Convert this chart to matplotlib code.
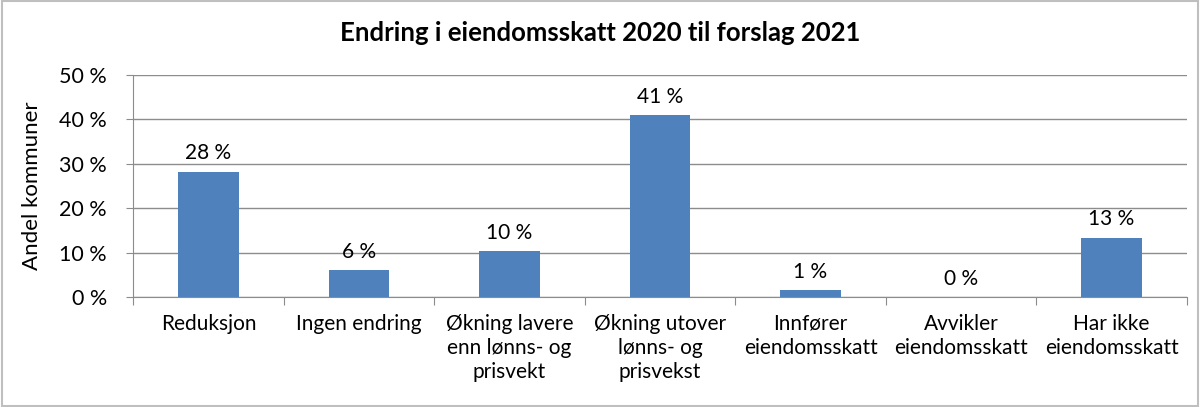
import matplotlib
matplotlib.use("Agg")
import matplotlib.pyplot as plt
from matplotlib.patches import Rectangle

plt.rcParams['font.family'] = ['Lato', 'DejaVu Sans']

kategorier = ["Reduksjon", "Ingen endring", "Økning lavere\nenn lønns- og\nprisvekt",
              "Økning utover\nlønns- og\nprisvekst", "Innfører\neiendomsskatt",
              "Avvikler\neiendomsskatt", "Har ikke\neiendomsskatt"]
andel = [28.2, 6.0, 10.3, 40.9, 1.5, 0.0, 13.4]
etiketter = ["28 %", "6 %", "10 %", "41 %", "1 %", "0 %", "13 %"]

fig = plt.figure(figsize=(12, 4.07), dpi=100)
ax = fig.add_axes([0.111, 0.270, 0.878, 0.546])

x = range(len(kategorier))
ax.bar(x, andel, width=0.4, color='#4F81BD', zorder=3)
for i, (v, t) in enumerate(zip(andel, etiketter)):
    ax.text(i, v + 1.9, t, ha='center', va='bottom', fontsize=15, color='black')

ax.set_xlim(-0.5, len(kategorier) - 0.5)
ax.set_ylim(0, 50)
ax.set_yticks(range(0, 51, 10))
ax.set_yticklabels([f"{v} %" for v in range(0, 51, 10)], fontsize=15.5)
ax.yaxis.grid(True, color='#8c8c8c', linewidth=1, zorder=0)

ax.set_xticks([i + 0.5 for i in range(-1, len(kategorier))], minor=False)
ax.set_xticklabels([])
ax.set_xticks(list(x), minor=True)
ax.set_xticklabels(kategorier, minor=True, fontsize=15, linespacing=1.25)
ax.tick_params(axis='x', which='major', length=6, color='#8c8c8c', direction='out')
ax.tick_params(axis='x', which='minor', length=0, pad=12)
ax.tick_params(axis='y', length=5, color='#8c8c8c', pad=14)

for s in ['top', 'right']:
    ax.spines[s].set_visible(False)
for s in ['left', 'bottom']:
    ax.spines[s].set_color('#8c8c8c')

ax.set_ylabel("Andel kommuner", fontsize=16, labelpad=12)
fig.text(0.5, 0.918, "Endring i eiendomsskatt 2020 til forslag 2021",
         ha='center', va='center', fontsize=18.5, fontweight='bold')

fig.patches.append(Rectangle((0.002, 0.003), 0.996, 0.994, transform=fig.transFigure,
                             fill=False, edgecolor='#bfbfbf', linewidth=1.5))

fig.savefig("out.png", dpi=100)
